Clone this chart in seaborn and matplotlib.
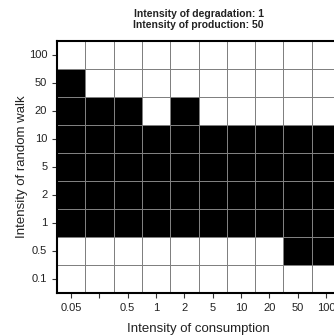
import numpy as np
import pandas as pd
import matplotlib
matplotlib.use("Agg")
import matplotlib.pyplot as plt
import seaborn as sns
from matplotlib.colors import ListedColormap

# Datos
consumption = ["0.05", "0.1", "0.5", "1", "2", "5", "10", "20", "50", "100"]
random_walk = ["100", "50", "20", "10", "5", "2", "1", "0.5", "0.1"]

# 1 = negro, 0 = blanco (filas de arriba a abajo)
row_100 = [0, 0, 0, 0, 0, 0, 0, 0, 0, 0]
row_50 = [1, 0, 0, 0, 0, 0, 0, 0, 0, 0]
row_20 = [1, 1, 1, 0, 1, 0, 0, 0, 0, 0]
row_10 = [1, 1, 1, 1, 1, 1, 1, 1, 1, 1]
row_5 = [1, 1, 1, 1, 1, 1, 1, 1, 1, 1]
row_2 = [1, 1, 1, 1, 1, 1, 1, 1, 1, 1]
row_1 = [1, 1, 1, 1, 1, 1, 1, 1, 1, 1]
row_05 = [0, 0, 0, 0, 0, 0, 0, 0, 1, 1]
row_01 = [0, 0, 0, 0, 0, 0, 0, 0, 0, 0]

df = pd.DataFrame([row_100, row_50, row_20, row_10, row_5, row_2, row_1, row_05, row_01],
                  index=random_walk, columns=consumption)

sns.set_style("white")
plt.rcParams['font.family'] = ['Liberation Sans', 'DejaVu Sans']

fig = plt.figure(figsize=(3.34, 3.36), dpi=100)
ax = fig.add_axes([57 / 334, 43 / 336, 283 / 334, 252 / 336])

sns.heatmap(df, ax=ax, cmap=ListedColormap(["white", "black"]), vmin=0, vmax=1,
            cbar=False, linewidths=0.6, linecolor="#808080", square=False)

# R omite la etiqueta 0.1 por solapamiento
xlabels = [c if c != "0.1" else "" for c in consumption]
ax.set_xticks(np.arange(len(consumption)) + 0.5)
ax.set_xticklabels(xlabels, rotation=0, fontsize=8)
ax.set_yticks(np.arange(len(random_walk)) + 0.5)
ax.set_yticklabels(random_walk, rotation=0, fontsize=8)
ax.tick_params(axis='both', direction='out', length=3.5, width=0.8, color='#333333',
               pad=3.5, bottom=True, left=True, labelcolor='#222222')

for s in ax.spines.values():
    s.set_visible(True)
    s.set_color('black')
    s.set_linewidth(1.5)

ax.set_xlabel('Intensity of consumption', fontsize=9.5, color='#222222')
ax.set_ylabel('Intensity of random walk', fontsize=9.5, color='#222222')
ax.xaxis.set_label_coords(0.5, -0.12)
ax.yaxis.set_label_coords(-0.102, 0.5)
ax.set_title('Intensity of degradation: 1\nIntensity of production: 50',
             fontsize=7.5, fontweight='bold', pad=9, linespacing=1.2, color='#222222')

fig.savefig('out.png', dpi=100)
